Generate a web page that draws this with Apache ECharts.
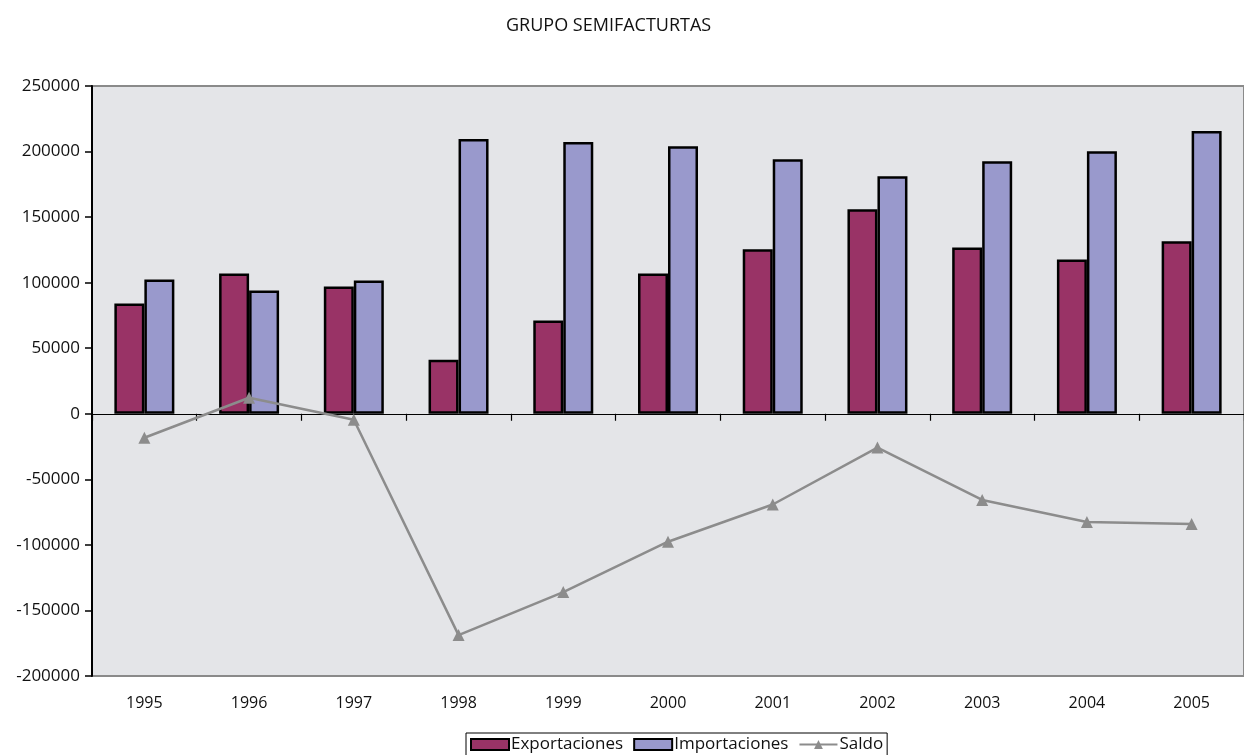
<!DOCTYPE html>
<html>
<head>
<meta charset="utf-8">
<script src="https://cdn.jsdelivr.net/npm/echarts@6/dist/echarts.min.js"></script>
<style>
  html, body { margin: 0; padding: 0; background: #fff; }
  #chart { width: 1244px; height: 755px; }
</style>
</head>
<body>
<div id="chart"></div>
<script>
var years = ['1995', '1996', '1997', '1998', '1999', '2000', '2001', '2002', '2003', '2004', '2005'];
var exportaciones = [84100, 107000, 97100, 41300, 71100, 107000, 125400, 156000, 126900, 117700, 131500];
var importaciones = [102400, 94000, 101700, 209500, 207200, 204100, 194200, 181200, 192700, 200300, 215600];
var saldo = [-18300, 12200, -4600, -168800, -136000, -97600, -69200, -25800, -65700, -82600, -84100];

var myChart = echarts.init(document.getElementById('chart'));
var font = 'Open Sans';

var option = {
    animation: false,
    title: {
        text: 'GRUPO SEMIFACTURTAS',
        left: 501,
        top: 12,
        textStyle: { fontFamily: font, fontSize: 18, fontWeight: 'normal', color: '#111' }
    },
    legend: {
        bottom: -2,
        left: 466,
        itemGap: 10,
        itemWidth: 38,
        itemHeight: 11,
        padding: [3, 4, 4, 4],
        borderColor: '#000',
        borderWidth: 1,
        backgroundColor: '#fff',
        textStyle: { fontFamily: font, fontSize: 17, color: '#111', padding: [0, 0, 0, -3] },
        data: [
            { name: 'Exportaciones', icon: 'rect' },
            { name: 'Importaciones', icon: 'rect' },
            { name: 'Saldo' }
        ]
    },
    grid: {
        left: 92,
        top: 86,
        width: 1160,
        height: 590,
        show: true,
        backgroundColor: '#e4e5e8',
        borderColor: '#8a8a8a',
        borderWidth: 2
    },
    xAxis: [
        {//eje en cero
            type: 'category',
            data: years,
            axisLine: { onZero: true, lineStyle: { color: '#000', width: 1.2 } },
            axisTick: { show: true, length: 7, lineStyle: { color: '#000', width: 1.2 } },
            axisLabel: { show: false },
            splitLine: { show: false }
        },
        {//etiquetas abajo
            type: 'category',
            data: years,
            position: 'bottom',
            axisLine: { show: false, onZero: false },
            axisTick: { show: false },
            axisLabel: { show: true, margin: 19, fontFamily: font, fontSize: 16, color: '#111' }
        }
    ],
    yAxis: {
        type: 'value',
        min: -200000,
        max: 250000,
        interval: 50000,
        axisLine: { show: true, lineStyle: { color: '#000', width: 2 } },
        axisTick: { show: true, length: 7, lineStyle: { color: '#000', width: 1.5 } },
        axisLabel: {
            margin: 12, fontFamily: font, fontSize: 17, color: '#111',
            formatter: function(v) { return String(v); }
        },
        splitLine: { show: false }
    },
    series: [
        {
            name: 'Exportaciones',
            type: 'bar',
            barWidth: 30,
            barGap: '0%',
            itemStyle: { color: '#993366', borderColor: '#000', borderWidth: 2.5 },
            data: exportaciones
        },
        {
            name: 'Importaciones',
            type: 'bar',
            barWidth: 30,
            barGap: '0%',
            itemStyle: { color: '#9999cc', borderColor: '#000', borderWidth: 2.5 },
            data: importaciones
        },
        {
            name: 'Saldo',
            type: 'line',
            symbol: 'triangle',
            symbolSize: 12,
            itemStyle: { color: '#8c8c8c' },
            lineStyle: { color: '#8c8c8c', width: 2.5 },
            data: saldo,
            z: 5
        }
    ]
};

myChart.setOption(option);
window.addEventListener('resize', function() { myChart.resize(); });
</script>
</body>
</html>
